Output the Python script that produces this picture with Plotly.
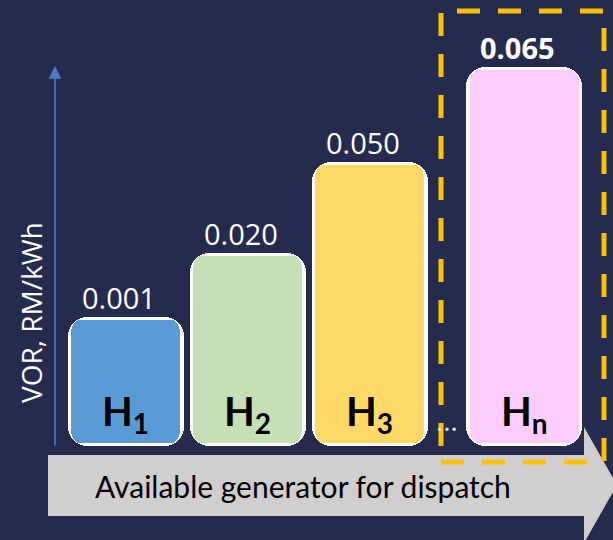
import plotly.graph_objects as go

# ---- data ----
categories = ["H1", "H2", "H3", "Hn"]
label_subscripts = ["1", "2", "3", "n"]
vor_values = ["0.001", "0.020", "0.050", "0.065"]   # RM/kWh (labels as printed)
bar_heights = [34, 51, 75, 100]                     # schematic bar heights (relative)
bar_colors = ["#5b9bd5", "#c5e0b4", "#ffd966", "#ffccff"]
highlight_index = 3                                  # bar inside the dashed box

# ---- geometry helpers ----
W, H = 613, 540
BG = "#252a4f"
ellipsis_gap = 0.27
n = len(categories)
x_pos = [i + (ellipsis_gap if i == n - 1 else 0) for i in range(n)]

# seam: bars are drawn as an upper part (rounded top) and a lower part
# (rounded bottom) joined at a common level, so both ends get rounded corners
seam = 16

px_per_x = 122.0
px_per_y = 3.79
x0 = -125.5 / px_per_x
x1 = x0 + W / px_per_x
y0 = -(H - 446) / px_per_y - seam
y1 = y0 + H / px_per_y

outer_w = 116 / px_per_x
border_x = 3.2 / px_per_x
border_y = 3.2 / px_per_y

def px(x):
    return x / W

def py(y):
    return 1 - y / H

fig = go.Figure()

def add_layer(width, color, radius, shrink):
    upper = [h - seam - shrink for h in bar_heights]
    lower = [-(seam - shrink)] * n
    fig.add_trace(go.Bar(x=x_pos, y=upper, width=width,
                         marker=dict(color=color, cornerradius=radius, line=dict(width=0)),
                         hoverinfo="skip"))
    fig.add_trace(go.Bar(x=x_pos, y=lower, width=width,
                         marker=dict(color=color, cornerradius=radius, line=dict(width=0)),
                         hoverinfo="skip"))
    # filler across the joint
    fig.add_trace(go.Bar(x=x_pos, y=[2] * n, base=[-1] * n, width=width,
                         marker=dict(color=color, line=dict(width=0)),
                         hoverinfo="skip"))

add_layer(outer_w, "white", 19, 0)
add_layer(outer_w - 2 * border_x, bar_colors, 16, border_y)

annotations = []
for i in range(n):
    annotations.append(dict(
        x=x_pos[i], y=bar_heights[i] - seam, xref="x", yref="y", showarrow=False,
        yanchor="bottom", xanchor="center", yshift=-2, xshift=-7,
        text=(f"<b>{vor_values[i]}</b>" if i == highlight_index else vor_values[i]),
        font=dict(family="Open Sans", size=29, color="white")))
    annotations.append(dict(
        x=x_pos[i], y=-seam, xref="x", yref="y", showarrow=False,
        yanchor="bottom", xanchor="center", yshift=4,
        text=f"<b>H<sub>{label_subscripts[i]}</sub></b>",
        font=dict(family="Liberation Sans Narrow, Lato", size=40, color="black")))

annotations.append(dict(x=px(447), y=py(420), xref="paper", yref="paper", showarrow=False,
                        xanchor="center", yanchor="middle",
                        text="…", font=dict(family="Open Sans", size=28, color="#e6e6e6")))
annotations.append(dict(x=px(55), y=py(66), xref="paper", yref="paper", showarrow=True,
                        ax=0, ay=381, axref="pixel", ayref="pixel",
                        arrowhead=2, arrowsize=1.6, arrowwidth=1.6, arrowcolor="#4a7cc4",
                        text=""))
annotations.append(dict(x=px(31), y=py(313), xref="paper", yref="paper", showarrow=False,
                        xanchor="center", yanchor="middle",
                        text="VOR, RM/kWh", textangle=-90,
                        font=dict(family="Open Sans", size=28, color="white")))
annotations.append(dict(x=px(303), y=py(486), xref="paper", yref="paper", showarrow=False,
                        xanchor="center", yanchor="middle",
                        text="Available generator for dispatch",
                        font=dict(family="Lato", size=30, color="black")))

arrow_path = "M {} {} L {} {} L {} {} L {} {} L {} {} L {} {} L {} {} Z".format(
    px(48), py(455), px(584), py(455), px(584), py(427), px(617), py(485),
    px(584), py(543), px(584), py(516), px(48), py(516))

shapes = [
    dict(type="path", xref="paper", yref="paper", path=arrow_path,
         fillcolor="#d0cece", line=dict(width=0), layer="below"),
    dict(type="rect", xref="paper", yref="paper",
         x0=px(441), x1=px(604), y0=py(462), y1=py(11),
         line=dict(color="#ffc000", width=5, dash="23px,18px"), layer="above"),
]

fig.update_layout(
    width=W, height=H, autosize=False,
    margin=dict(l=0, r=0, t=0, b=0, pad=0),
    paper_bgcolor=BG, plot_bgcolor=BG,
    barmode="overlay", bargap=0, showlegend=False,
    xaxis=dict(range=[x0, x1], visible=False, fixedrange=True),
    yaxis=dict(range=[y0, y1], visible=False, fixedrange=True),
    annotations=annotations, shapes=shapes,
)

fig.write_html("out.html", config={"displayModeBar": False},
               post_script="document.body.style.margin='0px';")
